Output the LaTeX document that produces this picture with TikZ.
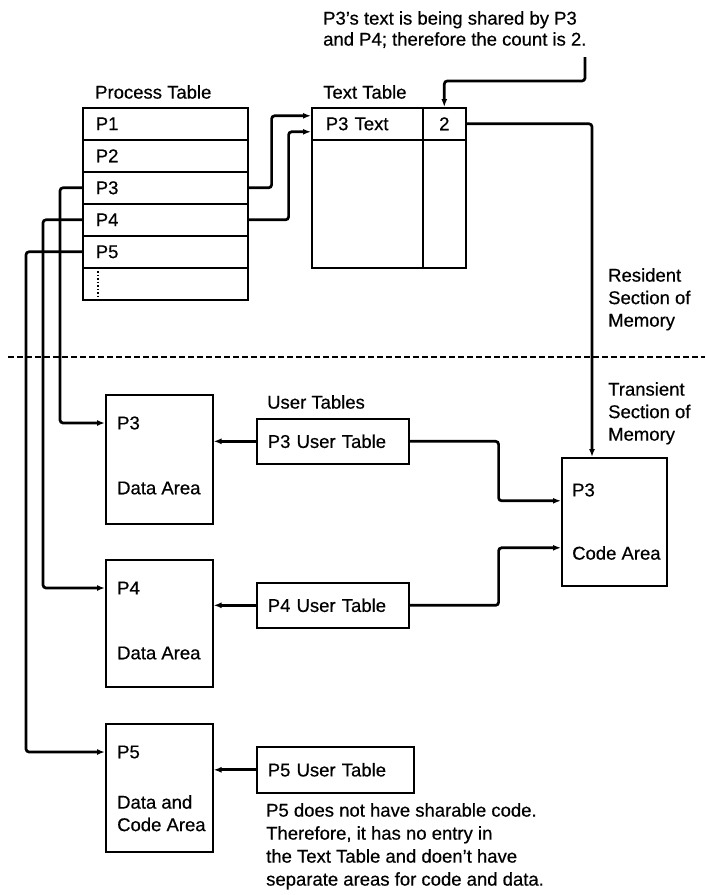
\documentclass[tikz,border=0pt]{standalone}
\usepackage{fontspec}
\setmainfont{Liberation Sans}[FakeBold=0.5]
\usetikzlibrary{arrows.meta,calc}
\begin{document}
\begin{tikzpicture}[x=1pt,y=-1pt,
  font=\fontsize{18.5}{22.5}\selectfont,
  box/.style={draw,line width=1.6pt,inner sep=0pt,anchor=north west},
  row/.style={box,minimum width=165pt,minimum height=32pt,text width=139pt,inner xsep=13pt,align=left},
  utab/.style={box,minimum height=45pt,text width=130pt,inner xsep=11pt,align=left},
  conn/.style={line width=2.7pt,rounded corners=3pt,-{Latex[length=8pt,width=6pt]}},
  lbl/.style={inner sep=0pt,anchor=west},
  multi/.style={inner sep=0pt,anchor=north west,align=left},
]
\useasboundingbox (0,0) rectangle (705,895);

% top note
\node[multi,font=\fontsize{18.5}{21}\selectfont] (note) at (323,11) {P3's text is being shared by P3\\and P4; therefore the count is 2.};
\coordinate (ns) at (585,57);

% titles
\node[lbl] (ptl) at (95,92) {Process Table};
\node[lbl] (ttl) at (323,92) {Text Table};

% process table
\node[row] (p1) at (82,107) {P1};
\node[row] (p2) at (82,139) {P2};
\node[row] (p3) at (82,171) {P3};
\node[row] (p4) at (82,203) {P4};
\node[row] (p5) at (82,235) {P5};
\node[row] (p6) at (82,267) {};
\draw[line width=1.5pt,dash pattern=on 1.5pt off 2pt] ([xshift=16pt,yshift=-4pt]p6.north west) -- ([xshift=16pt,yshift=4pt]p6.south west);

% text table
\node[box,minimum width=111pt,minimum height=32pt,text width=83pt,inner xsep=14pt,align=left] (tt1) at (311,107) {P3 Text};
\node[box,minimum width=43pt,minimum height=32pt] (cnt) at (422,107) {2};
\node[box,minimum width=111pt,minimum height=128pt] (tt2) at (311,139) {};
\node[box,minimum width=43pt,minimum height=128pt] (tt3) at (422,139) {};

% memory labels
\node[multi] (res) at (608,268) {Resident\\Section of\\Memory};
\node[multi] (tra) at (608,382) {Transient\\Section of\\Memory};
\coordinate (dl1) at (8,357);
\coordinate (dl2) at (705,357);
\draw[line width=1.3pt,dash pattern=on 6pt off 3pt] (dl1) -- (dl2);

% data areas
\node[box,minimum width=107pt,minimum height=129pt] (d3) at (105,394) {};
\node[box,minimum width=107pt,minimum height=127pt] (d4) at (105,559) {};
\node[box,minimum width=107pt,minimum height=128pt] (d5) at (105,723) {};
\node[lbl] (d3a) at (117,423) {P3};
\node[lbl] (d3b) at (117,488) {Data Area};
\node[lbl] (d4a) at (117,588) {P4};
\node[lbl] (d4b) at (117,653) {Data Area};
\node[lbl] (d5a) at (117,752) {P5};
\node[multi] (d5b) at (117,795) {Data and\\Code Area};

% code area
\node[box,minimum width=105pt,minimum height=128pt] (code) at (561,457) {};
\node[lbl] (ca) at (572,490) {P3};
\node[lbl] (cb) at (572,553) {Code Area};
\coordinate (cin) at ([xshift=31pt]code.north west);

% user tables
\node[lbl] (utl) at (267,402) {User Tables};
\node[utab,minimum width=152pt] (ut3) at (256,418) {P3 User Table};
\node[utab,minimum width=152pt] (ut4) at (256,582) {P4 User Table};
\node[utab,minimum width=157pt,minimum height=46pt,text width=135pt] (ut5) at (256,746) {P5 User Table};

% bottom note
\node[multi,font=\fontsize{18.5}{23}\selectfont] (bn) at (266,803) {P5 does not have sharable code.\\Therefore, it has no entry in\\the Text Table and doen't have\\separate areas for code and data.};

% connectors
\draw[conn] (p3.east) -- ++(23,0) |- ([yshift=8pt]tt1.west);
\draw[conn] (p4.east) -- ++(40,0) |- ([yshift=-8pt]tt1.west);
\draw[conn] (p3.west) -- ++(-22,0) |- (d3.west |- d3a.west);
\draw[conn] (p4.west) -- ++(-39,0) |- (d4.west |- d4a.west);
\draw[conn] (p5.west) -- ++(-56,0) |- (d5.west |- d5a.west);
\draw[conn] (ut3.west) -- (d3.east |- ut3.west);
\draw[conn] (ut4.west) -- (d4.east |- ut4.west);
\draw[conn] (ut5.west) -- (d5.east |- ut5.west);
\draw[conn] (ut3.east) -- ++(89,0) |- ([yshift=21pt]code.west);
\draw[conn] (ut4.east) -- ++(89,0) |- ([yshift=-26pt]code.west);
\draw[conn] (cnt.east) -| (cin);
\draw[conn] (ns) |- ++(0,24) -| (cnt.north);
\end{tikzpicture}
\end{document}
